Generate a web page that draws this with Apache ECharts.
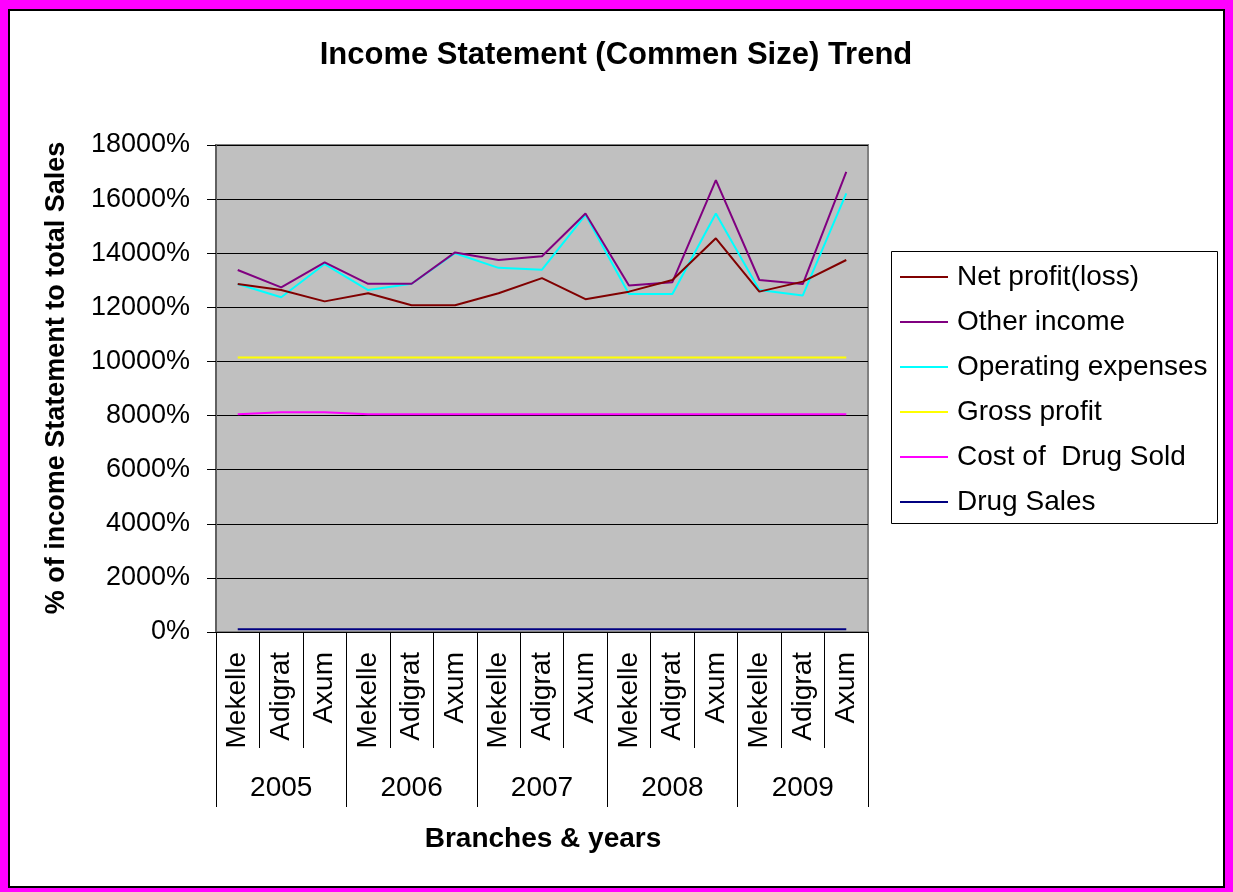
<!DOCTYPE html>
<html>
<head>
<meta charset="utf-8">
<script src="https://cdn.jsdelivr.net/npm/echarts@6/dist/echarts.min.js"></script>
<style>
html,body{margin:0;padding:0;background:#FF00FF;}
#chart{width:1233px;height:892px;}
</style>
</head>
<body>
<div id="chart"></div>
<script>
var branches = ['Mekelle','Adigrat','Axum','Mekelle','Adigrat','Axum','Mekelle','Adigrat','Axum','Mekelle','Adigrat','Axum','Mekelle','Adigrat','Axum'];
var years = ['2005','2006','2007','2008','2009'];
var yTicks = [0, 18000, 2000];

var netProfit = [12860, 12640, 12220, 12520, 12080, 12080, 12520, 13080, 12300, 12580, 13010, 14550, 12580, 12950, 13750];
var otherIncome = [13380, 12740, 13660, 12870, 12870, 14030, 13750, 13890, 15470, 12810, 12930, 16700, 13010, 12860, 17010];
var operatingExpenses = [12860, 12370, 13600, 12640, 12870, 14000, 13460, 13390, 15420, 12490, 12490, 15470, 12640, 12440, 16210];
var grossProfit = [10150, 10150, 10150, 10150, 10150, 10150, 10150, 10150, 10150, 10150, 10150, 10150, 10150, 10150, 10150];
var costOfDrugSold = [8050, 8120, 8120, 8050, 8050, 8050, 8050, 8050, 8050, 8050, 8050, 8050, 8050, 8050, 8050];
var drugSales = [100, 100, 100, 100, 100, 100, 100, 100, 100, 100, 100, 100, 100, 100, 100];

var seriesNames = ['Net profit(loss)', 'Other income', 'Operating expenses', 'Gross profit', 'Cost of  Drug Sold', 'Drug Sales'];
var seriesColors = ['#800000', '#800080', '#00FFFF', '#FFFF00', '#FF00FF', '#000080'];
var seriesData = [netProfit, otherIncome, operatingExpenses, grossProfit, costOfDrugSold, drugSales];

var FONT = '"Liberation Sans", Arial, sans-serif';

var series = [];
for (var i = seriesNames.length - 1; i >= 0; i--) {
  series.push({
    name: seriesNames[i],
    type: 'line',
    xAxisIndex: 0,
    yAxisIndex: 0,
    data: seriesData[i],
    symbol: 'none',
    showSymbol: false,
    color: seriesColors[i],
    itemStyle: { color: seriesColors[i] },
    lineStyle: { color: seriesColors[i], width: 2 },
    z: 3 + (seriesNames.length - i)
  });
}

var chart = echarts.init(document.getElementById('chart'), null, { renderer: 'canvas' });
chart.setOption({
  animation: false,
  backgroundColor: '#FF00FF',
  textStyle: { fontFamily: FONT, color: '#000' },
  grid: {
    left: 216, top: 145, right: 365, bottom: 260,
    show: true,
    backgroundColor: '#C0C0C0',
    borderColor: '#808080',
    borderWidth: 2
  },
  legend: {
    orient: 'vertical',
    left: 900,
    top: 263,
    padding: 0,
    itemGap: 17,
    itemWidth: 48,
    itemHeight: 2,
    icon: 'rect',
    data: seriesNames,
    textStyle: { fontFamily: FONT, fontSize: 28, color: '#000', lineHeight: 28, padding: [0, 0, 0, 4] }
  },
  xAxis: [
    {
      type: 'category',
      position: 'bottom',
      data: branches,
      boundaryGap: true,
      axisLine: { show: true, lineStyle: { color: '#000', width: 1 } },
      axisTick: { show: true, interval: 0, length: 116, lineStyle: { color: '#000', width: 1 } },
      axisLabel: { interval: 0, rotate: 90, margin: 20, fontSize: 28, color: '#000', fontFamily: FONT },
      splitLine: { show: false }
    },
    {
      type: 'category',
      position: 'bottom',
      data: years,
      boundaryGap: true,
      axisLine: { show: false },
      axisTick: { show: true, interval: 0, length: 175, lineStyle: { color: '#000', width: 1 } },
      axisLabel: { interval: 0, margin: 142, fontSize: 28, color: '#000', fontFamily: FONT },
      splitLine: { show: false }
    }
  ],
  yAxis: {
    type: 'value',
    min: yTicks[0],
    max: yTicks[1],
    interval: yTicks[2],
    axisLine: { show: true, lineStyle: { color: '#606060', width: 2 } },
    axisTick: { show: true, length: 9, lineStyle: { color: '#000', width: 1 } },
    axisLabel: { formatter: function (v) { return String(v) + '%'; }, margin: 26, fontSize: 27, color: '#000', fontFamily: FONT },
    splitLine: { show: true, lineStyle: { color: '#000', width: 1 } }
  },
  graphic: [
    {
      type: 'rect', z: -100,
      shape: { x: 9, y: 10, width: 1215, height: 877 },
      style: { fill: '#FFFFFF', stroke: '#000000', lineWidth: 2 }
    },
    {
      type: 'rect', z: -50,
      shape: { x: 891.5, y: 251.5, width: 326, height: 272 },
      style: { fill: '#FFFFFF', stroke: '#000000', lineWidth: 1 }
    },
    {
      type: 'text', x: 616, y: 55,
      style: { text: 'Income Statement (Commen Size) Trend', fill: '#000', font: 'bold 31px ' + FONT, textAlign: 'center', textVerticalAlign: 'middle' }
    },
    {
      type: 'text', x: 543, y: 839,
      style: { text: 'Branches & years', fill: '#000', font: 'bold 28px ' + FONT, textAlign: 'center', textVerticalAlign: 'middle' }
    },
    {
      type: 'text', x: 57, y: 378, rotation: Math.PI / 2,
      style: { text: '% of income Statement to total Sales', fill: '#000', font: 'bold 27px ' + FONT, textAlign: 'center', textVerticalAlign: 'middle' }
    }
  ],
  series: series
});
</script>
</body>
</html>
